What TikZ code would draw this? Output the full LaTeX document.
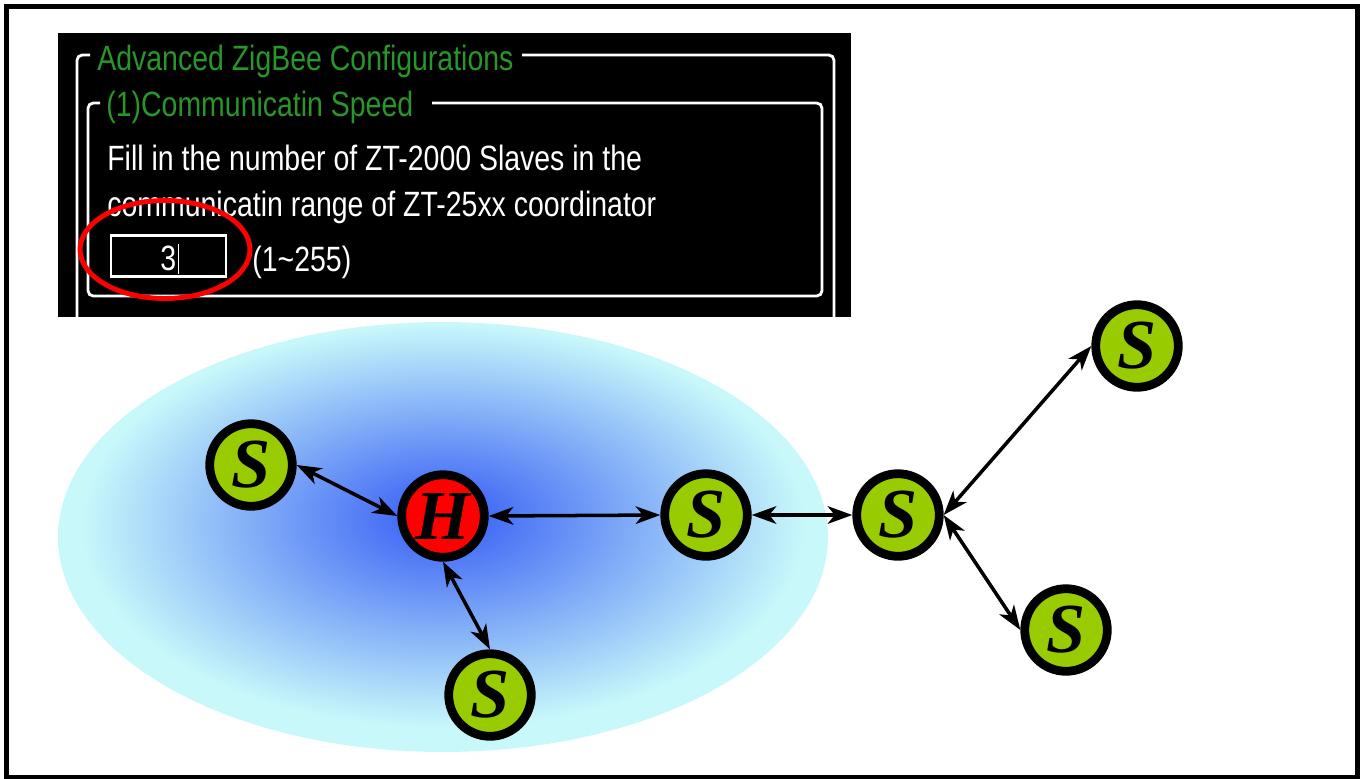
\documentclass[tikz,border=0pt]{standalone}
\usepackage{fontspec}
\newfontfamily\uifont[FakeStretch=0.81]{Liberation Sans}
\newfontfamily\devfont{Liberation Serif}
\usetikzlibrary{arrows.meta,positioning}
\definecolor{slavegreen}{RGB}{153,204,0}
\definecolor{hostred}{RGB}{255,0,0}
\definecolor{uigreen}{RGB}{40,150,40}
\definecolor{zoneblue}{RGB}{70,110,245}
\definecolor{zonecyan}{RGB}{200,248,250}
\pgfdeclareradialshading{zonefade}{\pgfpoint{0bp}{2.5bp}}{color(0bp)=(zoneblue); color(3bp)=(zoneblue); color(23.5bp)=(zonecyan); color(50bp)=(zonecyan)}
\tikzstyle{dev}=[circle, draw=black, line width=5pt, minimum size=47pt,
                inner sep=0pt, font=\devfont\fontsize{40}{40}\selectfont\bfseries\itshape]
\tikzstyle{slave}=[dev, fill=slavegreen]
\tikzstyle{host}=[dev, fill=hostred]
\tikzstyle{link}=[arrows={Stealth[length=14pt,width=10pt,inset=4pt]-Stealth[length=14pt,width=10pt,inset=4pt]},
                line width=2pt]
\tikzstyle{groupbox}=[draw=white, line width=1.6pt, rounded corners=3pt]
\tikzstyle{uitext}=[font=\uifont\fontsize{20}{20}\selectfont, text=white,
                inner sep=0pt, anchor=base west]

\begin{document}
\begin{tikzpicture}[x=0.02cm, y=-0.02cm]
\useasboundingbox (0,0) rectangle (1365,778);
\draw[line width=2.8pt] (6.5,6.5) rectangle (1357.5,777);

% range of the coordinator
\shade[shading=zonefade] (443,537) ellipse [x radius=7.7cm, y radius=4.3cm];

% configuration panel
\fill[black] (58,33) rectangle (851,317);
\draw[groupbox] (90,55) -- (77,55) -- (77,317);
\draw[groupbox] (522,55) -- (834,55) -- (834,317);
\draw[groupbox] (100,103) -- (88,103) -- (88,296) -- (822,296) -- (822,103) -- (432,103);
\node[uitext, text=uigreen] (advtitle) at (97,70) {Advanced ZigBee Configurations};
\node[uitext, text=uigreen] (speedtitle) at (106,116) {(1)Communicatin Speed};
\node[uitext] (line1) at (107,170) {Fill in the number of ZT-2000 Slaves in the};
\node[uitext] (line2) at (107,216) {communicatin range of ZT-25xx coordinator};
\node[draw=white, line width=1.6pt, fill=black, minimum width=2.3cm, minimum height=0.82cm,
      inner sep=0pt] (slavebox) at (168.5,256) {};
\node[uitext] (slavenum) at (160,270) {3\kern1pt\rule[-2pt]{0.6pt}{17pt}};
\node[uitext] (range) at (252,271) {(1\textasciitilde255)};
\draw[hostred, line width=2.8pt] (165,249.5) ellipse [x radius=1.7cm, y radius=0.98cm];

% network
\node[slave] (s1) at (251,465) {S};
\node[host] (h) at (443,516) {H};
\node[slave] (s2) at (706,515) {S};
\node[slave] (s3) at (898,515) {S};
\node[slave] (s4) at (490,695) {S};
\node[slave] (s5) at (1137,346) {S};
\node[slave] (s6) at (1066,630) {S};

\draw[link] (s1.east) -- (h.west);
\draw[link] (h.east) -- (s2.west);
\draw[link] (h.south) -- (s4.north);
\draw[link] (s2.east) -- (s3.west);
\draw[link] (s3.east) -- (s5.west);
\draw[link] (s3.east) -- (s6.west);
\end{tikzpicture}
\end{document}
